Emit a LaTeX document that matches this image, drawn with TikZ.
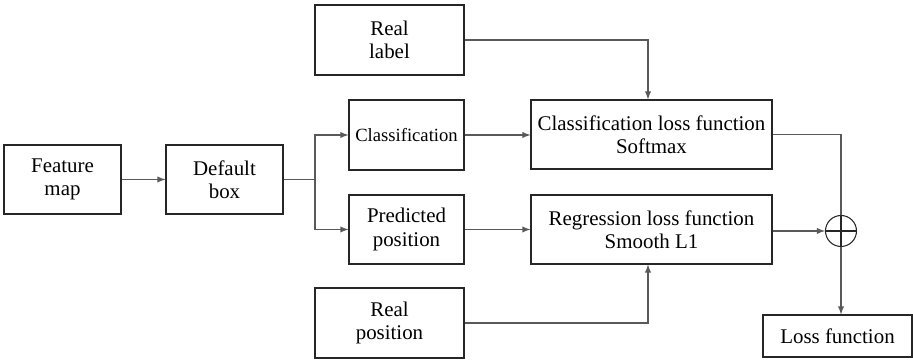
\documentclass[tikz,border=0pt]{standalone}
\usepackage{fontspec}
\setmainfont{Liberation Serif}
\usepackage{tikz}

\begin{document}
\begin{tikzpicture}[
  >=latex,
  every node/.style={font=\rmfamily\fontsize{11.9}{13.3}\selectfont},
  box/.style={draw=black!85, line width=0.6pt, minimum width=2.34cm, minimum height=1.38cm, align=center, inner sep=1pt},
  widebox/.style={box, minimum width=2.98cm, minimum height=1.40cm},
  lossbox/.style={box, minimum width=4.82cm},
  link/.style={draw=black!65, line width=0.6pt}
]
\useasboundingbox (0,0) rectangle (18.26,7.22);

% Left part
\node[box] (feat) at (1.25, 3.63) {Feature\\map};
\node[box] (dflt) at (4.49, 3.63) {Default\\box};
\coordinate (split) at (6.30, 3.63);

% Middle column
\node[widebox] (reallabel) at (7.79, 6.42) {Real\\label};
\node[box, minimum width=2.30cm, minimum height=1.40cm, font=\rmfamily\fontsize{10.6}{12}\selectfont] (cls) at (8.13, 4.52) {Classification};
\node[box, minimum width=2.30cm] (pred) at (8.13, 2.63) {Predicted\\position};
\node[widebox] (realpos) at (7.79, 0.76) {Real\\position};

% Loss boxes
\node[lossbox] (clsloss) at (13.03, 4.53) {Classification loss function\\Softmax};
\node[lossbox] (regloss) at (13.03, 2.63) {Regression loss function\\Smooth L1};
\coordinate (col) at (12.96, 0);

% Sum and output
\node[draw=black!85, line width=0.6pt, circle, minimum size=0.62cm, inner sep=0pt] (sum) at (16.82, 2.60) {};
\draw[line width=0.6pt, black!85] (sum.west) -- (sum.east) (sum.north) -- (sum.south);
\node[widebox, minimum height=0.84cm] (loss) at (16.75, 0.50) {Loss function};

% Connectors
\draw[link, ->] (feat) -- (dflt);
\draw[link] (dflt) -- (split);
\draw[link, ->] (split) |- (cls);
\draw[link, ->] (split) |- (pred);
\draw[link, ->] (cls) -- (clsloss.west |- cls);
\draw[link, ->] (pred) -- (regloss.west |- pred);
\draw[link, ->] (reallabel.east) -| (col |- clsloss.north);
\draw[link, ->] (realpos.east) -| (col |- regloss.south);
\draw[link] (clsloss.east) -| (sum.north);
\draw[link, ->] (regloss.east |- sum) -- (sum.west);
\draw[link, ->] (sum.south) -- (sum.south |- loss.north);
\end{tikzpicture}
\end{document}
